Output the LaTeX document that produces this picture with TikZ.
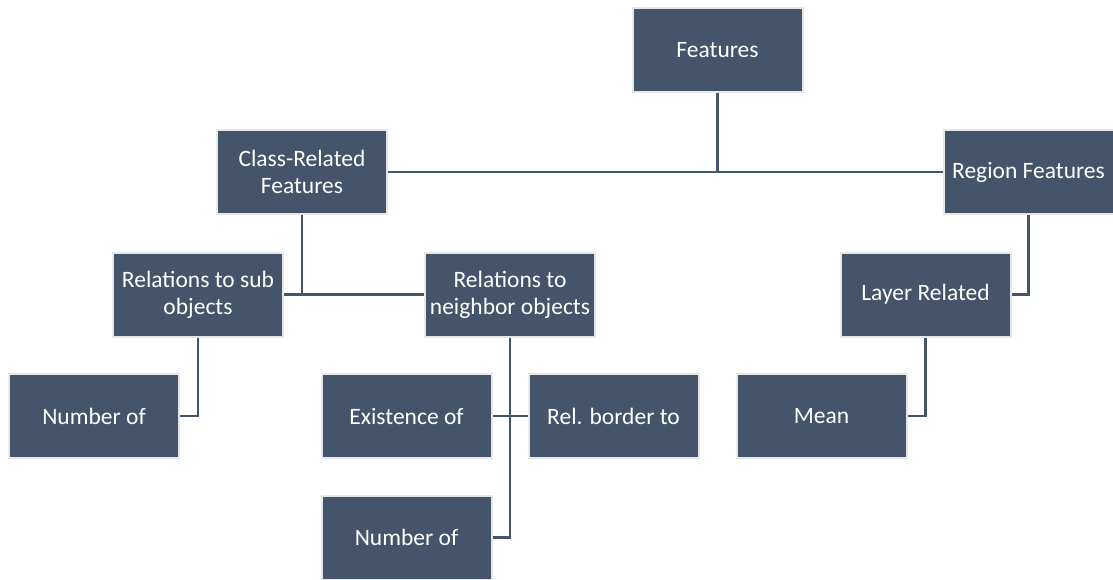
\documentclass[tikz,border=0pt]{standalone}
\usepackage{fontspec}
\setmainfont{Carlito}
\definecolor{slate}{HTML}{44546A}
\definecolor{rim}{HTML}{E7E7E7}
\tikzset{
  box/.style={fill=slate, draw=rim, line width=2pt, text=white, align=center,
    minimum width=170pt, minimum height=84pt, inner sep=2pt,
    font=\fontsize{23.5}{27}\selectfont},
  link/.style={draw=slate, line width=2.6pt}
}
\begin{document}
\begin{tikzpicture}[x=1pt, y=-1pt]
  \useasboundingbox (0,0) rectangle (1113,579);
  \node[box] (feat) at (717.5, 50) {Features};
  \node[box] (cls) at (302, 172) {Class-Related\\Features};
  \node[box] (reg) at (1028.5, 172) {Region Features};
  \node[box] (sub) at (198, 294.5) {Relations to sub\\objects};
  \node[box] (nbr) at (510, 294.5) {Relations to\\neighbor objects};
  \node[box] (lay) at (925.5, 294.5) {Layer Related};
  \node[box] (num1) at (94, 416) {Number of};
  \node[box] (exist) at (406.5, 416) {Existence of};
  \node[box] (rel) at (613.5, 416) {Rel. border to};
  \node[box] (mean) at (821.5, 416) {Mean};
  \node[box] (num2) at (406.5, 537.5) {Number of};
  % connectors
  \draw[link] (cls.east) -- (reg.west);
  \draw[link] (feat.south) -- (feat.south |- cls.east);
  \draw[link] (sub.east) -- (nbr.west);
  \draw[link] (cls.south) -- (cls.south |- sub.east);
  \draw[link] (reg.south) |- (lay.east);
  \draw[link] (lay.south) |- (mean.east);
  \draw[link] (sub.south) |- (num1.east);
  \draw[link] (nbr.south) |- (num2.east);
  \draw[link] (exist.east) -- (rel.west);
\end{tikzpicture}
\end{document}
